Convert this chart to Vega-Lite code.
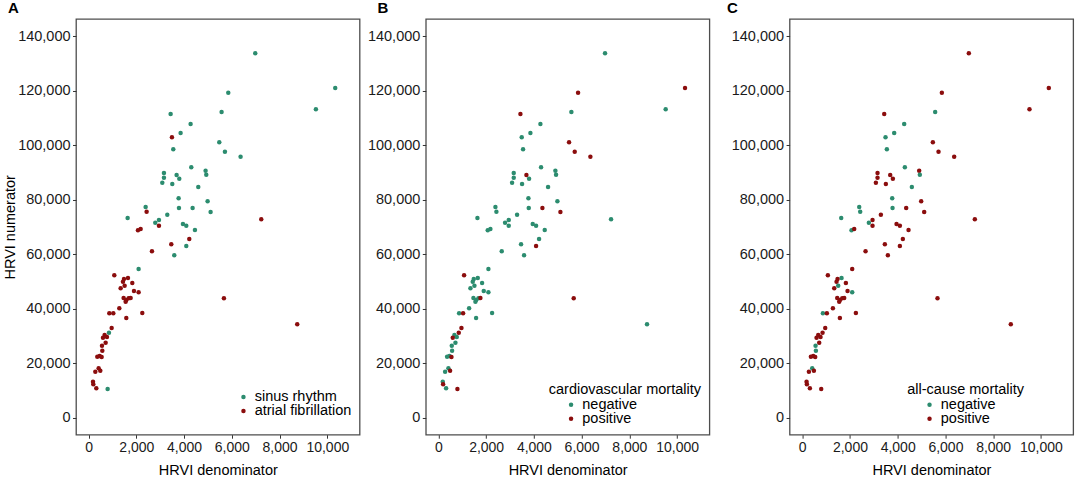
{
  "$schema": "https://vega.github.io/schema/vega-lite/v6.json",
  "padding": {"left": 1, "top": 0, "right": 5, "bottom": 5},
  "datasets": {
    "hrvi": [
      {"x": 6981, "y": 133784, "rhythm": "sinus rhythm", "cv": "negative", "ac": "positive"},
      {"x": 10332, "y": 121065, "rhythm": "sinus rhythm", "cv": "positive", "ac": "positive"},
      {"x": 9522, "y": 113238, "rhythm": "sinus rhythm", "cv": "negative", "ac": "positive"},
      {"x": 5851, "y": 119353, "rhythm": "sinus rhythm", "cv": "positive", "ac": "positive"},
      {"x": 5571, "y": 112259, "rhythm": "sinus rhythm", "cv": "negative", "ac": "negative"},
      {"x": 3436, "y": 111525, "rhythm": "sinus rhythm", "cv": "positive", "ac": "positive"},
      {"x": 4273, "y": 107856, "rhythm": "sinus rhythm", "cv": "negative", "ac": "negative"},
      {"x": 3854, "y": 104554, "rhythm": "sinus rhythm", "cv": "negative", "ac": "negative"},
      {"x": 3491, "y": 102964, "rhythm": "atrial fibrillation", "cv": "negative", "ac": "negative"},
      {"x": 3547, "y": 98562, "rhythm": "sinus rhythm", "cv": "negative", "ac": "negative"},
      {"x": 5474, "y": 101130, "rhythm": "sinus rhythm", "cv": "positive", "ac": "positive"},
      {"x": 5711, "y": 97705, "rhythm": "sinus rhythm", "cv": "positive", "ac": "positive"},
      {"x": 6367, "y": 95871, "rhythm": "sinus rhythm", "cv": "positive", "ac": "positive"},
      {"x": 4301, "y": 91957, "rhythm": "sinus rhythm", "cv": "negative", "ac": "negative"},
      {"x": 4901, "y": 90734, "rhythm": "sinus rhythm", "cv": "negative", "ac": "positive"},
      {"x": 4929, "y": 89267, "rhythm": "sinus rhythm", "cv": "negative", "ac": "negative"},
      {"x": 3156, "y": 89878, "rhythm": "sinus rhythm", "cv": "negative", "ac": "positive"},
      {"x": 3156, "y": 88166, "rhythm": "sinus rhythm", "cv": "negative", "ac": "positive"},
      {"x": 3687, "y": 89144, "rhythm": "sinus rhythm", "cv": "positive", "ac": "positive"},
      {"x": 3799, "y": 87799, "rhythm": "sinus rhythm", "cv": "negative", "ac": "positive"},
      {"x": 3087, "y": 86332, "rhythm": "sinus rhythm", "cv": "negative", "ac": "positive"},
      {"x": 3505, "y": 85842, "rhythm": "sinus rhythm", "cv": "negative", "ac": "positive"},
      {"x": 4594, "y": 84742, "rhythm": "sinus rhythm", "cv": "negative", "ac": "negative"},
      {"x": 3771, "y": 80583, "rhythm": "sinus rhythm", "cv": "negative", "ac": "negative"},
      {"x": 4985, "y": 79483, "rhythm": "sinus rhythm", "cv": "negative", "ac": "positive"},
      {"x": 2389, "y": 77404, "rhythm": "sinus rhythm", "cv": "negative", "ac": "negative"},
      {"x": 2430, "y": 75691, "rhythm": "atrial fibrillation", "cv": "negative", "ac": "negative"},
      {"x": 3785, "y": 77037, "rhythm": "sinus rhythm", "cv": "negative", "ac": "negative"},
      {"x": 4357, "y": 77037, "rhythm": "sinus rhythm", "cv": "positive", "ac": "positive"},
      {"x": 5111, "y": 75569, "rhythm": "sinus rhythm", "cv": "positive", "ac": "positive"},
      {"x": 1635, "y": 73368, "rhythm": "sinus rhythm", "cv": "negative", "ac": "negative"},
      {"x": 7233, "y": 72879, "rhythm": "atrial fibrillation", "cv": "negative", "ac": "positive"},
      {"x": 3296, "y": 74591, "rhythm": "sinus rhythm", "cv": "negative", "ac": "positive"},
      {"x": 2947, "y": 72634, "rhythm": "sinus rhythm", "cv": "negative", "ac": "positive"},
      {"x": 2793, "y": 71656, "rhythm": "sinus rhythm", "cv": "negative", "ac": "negative"},
      {"x": 2947, "y": 70555, "rhythm": "atrial fibrillation", "cv": "negative", "ac": "positive"},
      {"x": 3952, "y": 71166, "rhythm": "sinus rhythm", "cv": "negative", "ac": "positive"},
      {"x": 4092, "y": 70555, "rhythm": "sinus rhythm", "cv": "negative", "ac": "positive"},
      {"x": 2067, "y": 68843, "rhythm": "atrial fibrillation", "cv": "negative", "ac": "negative"},
      {"x": 2179, "y": 69332, "rhythm": "atrial fibrillation", "cv": "negative", "ac": "positive"},
      {"x": 4455, "y": 68965, "rhythm": "sinus rhythm", "cv": "negative", "ac": "positive"},
      {"x": 4217, "y": 65663, "rhythm": "atrial fibrillation", "cv": "negative", "ac": "positive"},
      {"x": 3463, "y": 63706, "rhythm": "atrial fibrillation", "cv": "negative", "ac": "positive"},
      {"x": 4092, "y": 63095, "rhythm": "sinus rhythm", "cv": "positive", "ac": "positive"},
      {"x": 2654, "y": 61138, "rhythm": "atrial fibrillation", "cv": "negative", "ac": "positive"},
      {"x": 3589, "y": 59670, "rhythm": "sinus rhythm", "cv": "negative", "ac": "positive"},
      {"x": 2095, "y": 54656, "rhythm": "sinus rhythm", "cv": "negative", "ac": "positive"},
      {"x": 1076, "y": 52332, "rhythm": "atrial fibrillation", "cv": "positive", "ac": "positive"},
      {"x": 1649, "y": 51354, "rhythm": "atrial fibrillation", "cv": "negative", "ac": "negative"},
      {"x": 1481, "y": 50986, "rhythm": "atrial fibrillation", "cv": "negative", "ac": "positive"},
      {"x": 1439, "y": 50008, "rhythm": "atrial fibrillation", "cv": "negative", "ac": "positive"},
      {"x": 1830, "y": 49519, "rhythm": "atrial fibrillation", "cv": "negative", "ac": "positive"},
      {"x": 1509, "y": 48541, "rhythm": "atrial fibrillation", "cv": "negative", "ac": "negative"},
      {"x": 1342, "y": 47562, "rhythm": "atrial fibrillation", "cv": "negative", "ac": "positive"},
      {"x": 1900, "y": 46584, "rhythm": "atrial fibrillation", "cv": "negative", "ac": "positive"},
      {"x": 2095, "y": 46095, "rhythm": "atrial fibrillation", "cv": "negative", "ac": "negative"},
      {"x": 1467, "y": 44016, "rhythm": "atrial fibrillation", "cv": "negative", "ac": "positive"},
      {"x": 1579, "y": 43282, "rhythm": "atrial fibrillation", "cv": "negative", "ac": "positive"},
      {"x": 1677, "y": 43893, "rhythm": "atrial fibrillation", "cv": "negative", "ac": "positive"},
      {"x": 1760, "y": 44016, "rhythm": "atrial fibrillation", "cv": "positive", "ac": "positive"},
      {"x": 1551, "y": 42670, "rhythm": "atrial fibrillation", "cv": "negative", "ac": "positive"},
      {"x": 5669, "y": 43893, "rhythm": "atrial fibrillation", "cv": "positive", "ac": "positive"},
      {"x": 1286, "y": 40224, "rhythm": "atrial fibrillation", "cv": "negative", "ac": "positive"},
      {"x": 867, "y": 38390, "rhythm": "atrial fibrillation", "cv": "negative", "ac": "negative"},
      {"x": 1034, "y": 38390, "rhythm": "atrial fibrillation", "cv": "positive", "ac": "positive"},
      {"x": 2249, "y": 38512, "rhythm": "atrial fibrillation", "cv": "negative", "ac": "positive"},
      {"x": 1579, "y": 36678, "rhythm": "atrial fibrillation", "cv": "negative", "ac": "positive"},
      {"x": 8740, "y": 34354, "rhythm": "atrial fibrillation", "cv": "negative", "ac": "positive"},
      {"x": 965, "y": 33009, "rhythm": "atrial fibrillation", "cv": "positive", "ac": "positive"},
      {"x": 853, "y": 31297, "rhythm": "sinus rhythm", "cv": "positive", "ac": "positive"},
      {"x": 671, "y": 30440, "rhythm": "atrial fibrillation", "cv": "negative", "ac": "positive"},
      {"x": 769, "y": 29707, "rhythm": "atrial fibrillation", "cv": "negative", "ac": "positive"},
      {"x": 602, "y": 29462, "rhythm": "atrial fibrillation", "cv": "positive", "ac": "positive"},
      {"x": 713, "y": 27628, "rhythm": "atrial fibrillation", "cv": "negative", "ac": "positive"},
      {"x": 560, "y": 26527, "rhythm": "atrial fibrillation", "cv": "negative", "ac": "negative"},
      {"x": 574, "y": 24692, "rhythm": "atrial fibrillation", "cv": "negative", "ac": "negative"},
      {"x": 364, "y": 22491, "rhythm": "atrial fibrillation", "cv": "negative", "ac": "positive"},
      {"x": 462, "y": 22736, "rhythm": "atrial fibrillation", "cv": "negative", "ac": "positive"},
      {"x": 546, "y": 22369, "rhythm": "atrial fibrillation", "cv": "positive", "ac": "positive"},
      {"x": 420, "y": 18210, "rhythm": "atrial fibrillation", "cv": "negative", "ac": "negative"},
      {"x": 490, "y": 17354, "rhythm": "atrial fibrillation", "cv": "positive", "ac": "positive"},
      {"x": 281, "y": 16987, "rhythm": "atrial fibrillation", "cv": "negative", "ac": "positive"},
      {"x": 183, "y": 13318, "rhythm": "atrial fibrillation", "cv": "negative", "ac": "positive"},
      {"x": 197, "y": 12340, "rhythm": "atrial fibrillation", "cv": "positive", "ac": "positive"},
      {"x": 322, "y": 10872, "rhythm": "atrial fibrillation", "cv": "negative", "ac": "positive"},
      {"x": 797, "y": 10628, "rhythm": "sinus rhythm", "cv": "positive", "ac": "positive"}
    ]
  },
  "config": {
    "font": "Liberation Sans",
    "view": {"stroke": "#4d4d4d", "strokeWidth": 1.3},
    "axis": {
      "domain": false,
      "grid": false,
      "tickColor": "#333333",
      "tickSize": 3.5,
      "labelColor": "#1a1a1a",
      "labelPadding": 2.5,
      "labelFlush": false,
      "titleFontSize": 14.5,
      "titleFontWeight": "normal",
      "titleColor": "#000000"
    },
    "axisX": {"titlePadding": 9, "labelFontSize": 14},
    "axisY": {"titlePadding": 0, "labelFontSize": 14.5},
    "legend": {
      "labelFontSize": 14.5,
      "labelColor": "#000000",
      "titleFontSize": 14.5,
      "titleFontWeight": "normal",
      "titleColor": "#000000",
      "symbolType": "circle",
      "symbolSize": 20,
      "rowPadding": -3.4,
      "padding": 0,
      "labelOffset": 4
    },
    "title": {"fontSize": 15, "fontWeight": "bold", "color": "#000000", "anchor": "start", "frame": "group", "offset": 3, "baseline": "alphabetic"}
  },
  "resolve": {"scale": {"color": "independent"}, "legend": {"color": "independent"}},
  "spacing": 14.6,
  "hconcat": [
    {
      "spacing": 4.8,
      "resolve": {"scale": {"color": "independent"}, "legend": {"color": "independent"}},
      "hconcat": [
        {
          "data": {"name": "hrvi"},
          "width": 283.6,
          "height": 415.7,
          "title": {"text": "A", "dx": -68},
          "mark": {"type": "circle", "size": 20, "opacity": 1},
          "encoding": {
            "x": {"field": "x", "type": "quantitative", "scale": {"domain": [-528, 11353], "nice": false, "zero": false}, "axis": {"title": "HRVI denominator", "values": [0, 2000, 4000, 6000, 8000, 10000], "format": ",.0f"}},
            "y": {"field": "y", "type": "quantitative", "scale": {"domain": [-6127, 146385], "nice": false, "zero": false}, "axis": {"title": "HRVI numerator", "values": [0, 20000, 40000, 60000, 80000, 100000, 120000, 140000], "format": ",.0f"}},
            "color": {"field": "rhythm", "type": "nominal", "scale": {"domain": ["sinus rhythm", "atrial fibrillation"], "range": ["#2c8c6f", "#8b0d0d"]}, "legend": {"title": null, "orient": "none", "legendX": 160.2, "legendY": 370.7}}
          }
        },
        {
          "data": {"name": "hrvi"},
          "width": 283.6,
          "height": 415.7,
          "title": {"text": "B", "dx": -48.4},
          "mark": {"type": "circle", "size": 20, "opacity": 1},
          "encoding": {
            "x": {"field": "x", "type": "quantitative", "scale": {"domain": [-528, 11353], "nice": false, "zero": false}, "axis": {"title": "HRVI denominator", "values": [0, 2000, 4000, 6000, 8000, 10000], "format": ",.0f"}},
            "y": {"field": "y", "type": "quantitative", "scale": {"domain": [-6127, 146385], "nice": false, "zero": false}, "axis": {"title": null, "values": [0, 20000, 40000, 60000, 80000, 100000, 120000, 140000], "format": ",.0f"}},
            "color": {"field": "cv", "type": "nominal", "scale": {"domain": ["negative", "positive"], "range": ["#2c8c6f", "#8b0d0d"]}, "legend": {"title": "cardiovascular mortality", "orient": "none", "legendX": 123, "legendY": 363.9, "titlePadding": 0, "rowPadding": -4, "symbolOffset": 15}}
          }
        }
      ]
    },
    {
      "data": {"name": "hrvi"},
      "width": 283.6,
      "height": 415.7,
      "title": {"text": "C", "dx": -62.7},
      "mark": {"type": "circle", "size": 20, "opacity": 1},
      "encoding": {
        "x": {"field": "x", "type": "quantitative", "scale": {"domain": [-528, 11353], "nice": false, "zero": false}, "axis": {"title": "HRVI denominator", "values": [0, 2000, 4000, 6000, 8000, 10000], "format": ",.0f"}},
        "y": {"field": "y", "type": "quantitative", "scale": {"domain": [-6127, 146385], "nice": false, "zero": false}, "axis": {"title": null, "values": [0, 20000, 40000, 60000, 80000, 100000, 120000, 140000], "format": ",.0f"}},
        "color": {"field": "ac", "type": "nominal", "scale": {"domain": ["negative", "positive"], "range": ["#2c8c6f", "#8b0d0d"]}, "legend": {"title": "all-cause mortality", "orient": "none", "legendX": 117.7, "legendY": 363.9, "titlePadding": 0, "rowPadding": -4, "symbolOffset": 15}}
      }
    }
  ]
}
